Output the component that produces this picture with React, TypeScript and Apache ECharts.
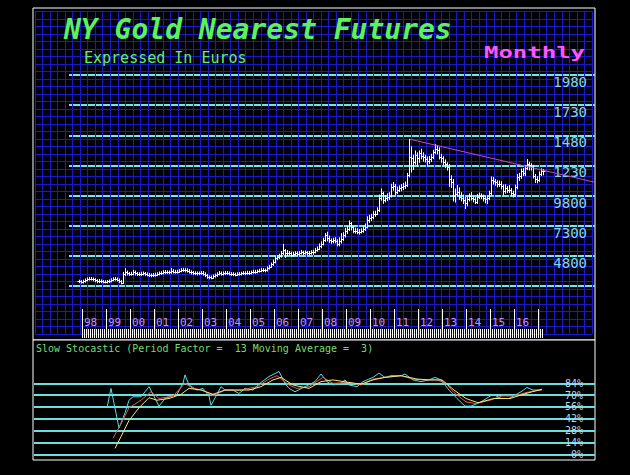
import React, { useEffect, useRef } from "react";
import * as echarts from "echarts";

// months are counted from Jan 1998 (= 0); the series starts Nov 1997
const START_MONTH = -2;

// monthly closes (EUR), Nov 1997 .. Mar 2017
const closes = [
  268, 262,
  270, 280, 288, 292, 290, 284, 276, 268, 272, 268, 265, 266,
  268, 272, 280, 288, 290, 282, 268, 258, 332, 345, 335, 330,
  332, 345, 335, 330, 328, 332, 335, 330, 325, 320, 318, 322,
  325, 330, 335, 338, 342, 346, 345, 344, 355, 350, 348, 350,
  355, 362, 365, 360, 358, 350, 342, 338, 336, 334, 335, 338,
  330, 318, 305, 302, 300, 310, 318, 330, 338, 332, 335, 340,
  338, 332, 330, 328, 325, 330, 332, 334, 338, 336, 340, 338,
  345, 350, 348, 352, 358, 365, 362, 360, 378, 390, 410, 430,
  460, 470, 480, 500, 530, 500, 505, 500, 490, 495, 500, 498,
  505, 510, 505, 508, 500, 505, 510, 515, 530, 540, 560, 580,
  610, 650, 628, 612, 600, 610, 605, 580, 600, 620, 650, 690,
  700, 750, 720, 690, 690, 680, 680, 690, 700, 720, 780, 790,
  800, 830, 830, 860, 960, 1000, 940, 960, 970, 980, 1050, 1060,
  1010, 1030, 1040, 1050, 1060, 1070, 1150, 1300, 1290, 1260, 1320, 1290,
  1330, 1310, 1300, 1280, 1270, 1280, 1300, 1340, 1370, 1360, 1300, 1290,
  1260, 1240, 1220, 1120, 1090, 980, 990, 1010, 970, 960, 940, 920,
  950, 975, 960, 950, 930, 970, 980, 975, 960, 950, 960, 1000,
  1110, 1100, 1090, 1080, 1080, 1060, 1020, 1040, 1030, 1030, 1000, 990,
  1050, 1130, 1140, 1180, 1170, 1210, 1240, 1230, 1220, 1140, 1120, 1110,
  1160, 1180, 1180,
];

const highs = [
  274, 270,
  274, 284, 292, 298, 296, 292, 286, 278, 280, 276, 272, 270,
  272, 276, 286, 294, 296, 292, 284, 270, 338, 370, 350, 338,
  340, 356, 350, 338, 336, 340, 342, 338, 334, 330, 326, 330,
  332, 336, 342, 344, 352, 354, 352, 350, 372, 362, 356, 356,
  362, 370, 372, 370, 368, 362, 352, 346, 344, 342, 342, 346,
  346, 336, 322, 310, 308, 316, 324, 336, 346, 342, 342, 346,
  346, 342, 338, 336, 332, 336, 338, 340, 344, 344, 348, 346,
  350, 356, 356, 358, 364, 372, 370, 366, 384, 398, 416, 440,
  466, 478, 490, 512, 570, 528, 520, 512, 506, 506, 510, 508,
  512, 520, 514, 516, 512, 512, 518, 522, 538, 550, 575, 592,
  622, 662, 672, 640, 616, 622, 626, 610, 626, 660, 668, 705,
  718, 765, 752, 722, 706, 700, 694, 700, 716, 740, 800, 812,
  820, 842, 846, 874, 980, 1030, 1004, 976, 990, 1000, 1070, 1084,
  1068, 1046, 1056, 1066, 1076, 1088, 1160, 1442, 1380, 1310, 1346, 1330,
  1346, 1360, 1330, 1310, 1296, 1300, 1318, 1352, 1400, 1386, 1372, 1318,
  1298, 1272, 1248, 1232, 1140, 1110, 1030, 1060, 1040, 1000, 980, 960,
  970, 990, 1000, 970, 960, 984, 996, 990, 980, 968, 972, 1012,
  1130, 1126, 1110, 1098, 1096, 1090, 1064, 1066, 1052, 1060, 1034, 1012,
  1062, 1150, 1160, 1196, 1200, 1226, 1275, 1252, 1240, 1226, 1150, 1132,
  1172, 1198, 1192,
];

const lows = [
  262, 258,
  258, 266, 276, 284, 284, 278, 270, 262, 262, 262, 260, 260,
  260, 264, 268, 278, 282, 276, 262, 252, 256, 320, 326, 322,
  324, 328, 326, 322, 320, 322, 326, 322, 318, 312, 310, 312,
  316, 320, 326, 330, 334, 338, 338, 336, 340, 342, 340, 342,
  346, 352, 356, 352, 350, 342, 334, 330, 328, 326, 328, 330,
  324, 312, 298, 294, 294, 298, 308, 314, 326, 324, 326, 330,
  330, 326, 322, 320, 318, 322, 324, 326, 330, 328, 332, 330,
  334, 340, 340, 344, 350, 354, 354, 352, 358, 374, 388, 406,
  426, 452, 462, 474, 494, 472, 488, 490, 478, 480, 488, 486,
  490, 498, 494, 498, 492, 494, 498, 496, 508, 524, 536, 552,
  574, 604, 608, 596, 588, 592, 592, 566, 568, 590, 612, 640,
  670, 694, 700, 676, 672, 668, 664, 674, 680, 696, 716, 762,
  778, 792, 812, 826, 852, 946, 920, 932, 944, 952, 972, 1028,
  990, 1000, 1018, 1024, 1034, 1044, 1060, 1140, 1180, 1200, 1244, 1226,
  1260, 1288, 1270, 1262, 1234, 1250, 1266, 1290, 1334, 1330, 1288, 1260,
  1240, 1216, 1196, 1060, 1050, 940, 930, 980, 954, 940, 918, 877,
  900, 940, 948, 932, 918, 920, 960, 960, 940, 924, 918, 950,
  990, 1080, 1070, 1056, 1060, 1040, 990, 1004, 1010, 1010, 984, 972,
  980, 1040, 1110, 1126, 1150, 1150, 1200, 1196, 1196, 1130, 1092, 1090,
  1102, 1150, 1156,
];

const yearLabels = ["98", "99", "00", "01", "02", "03", "04", "05", "06", "07",
  "08", "09", "10", "11", "12", "13", "14", "15", "16"];

const priceTickValues = [230, 480, 730, 980, 1230, 1480, 1730, 1980];
const priceTickLabels = ["", "4800", "7300", "9800", "1230", "1480", "1730", "1980"];

const pctTickValues = [0, 14, 28, 42, 56, 70, 84];
const pctTickLabels = ["0%", "14%", "28%", "42%", "56%", "70%", "84%"];

// resistance line [month, EUR]
const trendLine = [[163.5, 1447], [256, 1090]];

// slow stochastic [month, %]
const fastK = [[12, 55], [14, 78], [18, 31], [21, 49], [23, 64], [25, 68], [29, 68], [31, 74], [33, 80], [35, 71],
  [38, 57], [41, 66], [47, 71], [50, 84], [51, 94], [53, 82], [57, 76], [60, 78], [63, 69], [64, 58], [67, 71],
  [69, 80], [71, 76], [75, 76], [78, 72], [81, 78], [85, 76], [89, 85], [93, 92], [98, 98], [101, 84], [103, 78],
  [106, 74], [111, 80], [116, 86], [119, 95], [122, 86], [125, 82], [129, 84], [131, 88], [133, 82], [137, 80],
  [140, 86], [145, 91], [148, 96], [151, 91], [154, 93], [159, 93], [161, 95], [165, 88], [169, 86], [173, 88],
  [176, 91], [179, 88], [183, 76], [187, 66], [191, 57], [194, 57], [199, 62], [205, 71], [209, 66], [213, 66],
  [219, 74], [222, 79], [225, 76], [229, 76]];
const slowK = [[15, 19], [19, 36], [23, 55], [29, 64], [34, 74], [38, 66], [45, 69], [51, 84], [55, 78], [60, 76],
  [65, 69], [71, 76], [79, 76], [87, 80], [93, 89], [97, 93], [103, 82], [107, 78], [113, 80], [120, 91], [125, 84],
  [133, 85], [139, 82], [145, 89], [151, 91], [159, 93], [165, 89], [171, 88], [177, 88], [181.5, 84], [185.5, 73],
  [191.5, 62], [196.5, 60], [203.5, 64], [209.5, 69], [215.5, 69], [221.5, 73], [225.5, 75], [229.5, 76]];
const slowD = [[16, 7], [19, 21], [23, 40], [28, 55], [33, 67], [37, 64], [43, 66], [49, 71], [53, 78], [59, 76],
  [65, 71], [71, 76], [83, 76], [89, 80], [95, 88], [99, 91], [105, 82], [113, 78], [119, 86], [125, 88], [133, 85],
  [139, 83], [145, 88], [151, 91], [159, 93], [167, 89], [173, 88], [179.5, 88], [185.5, 76], [191.5, 66],
  [197.5, 61], [205.5, 66], [213.5, 66], [221.5, 72], [229.5, 77]];

const MONO = "'DejaVu Sans Mono', monospace";

export default function App() {
  const ref = useRef<HTMLDivElement>(null);

  useEffect(() => {
    if (!ref.current) return;
    const chart = echarts.init(ref.current, undefined, { renderer: "svg" });

    const ohlc = closes.map((c, i) => [START_MONTH + i, i === 0 ? c : closes[i - 1], c, lows[i], highs[i]]);

    const hidden = (gridIndex: number) => ({ type: "value", gridIndex, min: 0, max: 1, show: false });

    const option: any = {
      animation: false,
      backgroundColor: "#000",
      grid: [
        { left: 33, top: 8, width: 562, height: 332, show: true, backgroundColor: "#00000c", borderColor: "#ffffff", borderWidth: 1 },
        { left: 33, top: 340, width: 562, height: 120, show: true, backgroundColor: "#000000", borderColor: "#ffffff", borderWidth: 1 },
        { left: 35, top: 11.5, width: 556.85, height: 322.5 },
        { left: 69, top: 75, width: 526, height: 211 },
        { left: 82, top: 329, width: 460, height: 9 },
        { left: 82, top: 309, width: 456, height: 29 },
        { left: 34, top: 383.3, width: 561, height: 71 },
      ],
      xAxis: [
        hidden(0),
        hidden(1),
        {
          type: "value", gridIndex: 2, min: 0, max: 74, interval: 1,
          axisLine: { show: false }, axisTick: { show: false }, axisLabel: { show: false },
          splitLine: { show: true, lineStyle: { color: "#1a1ac4", width: 1 } },
        },
        { type: "value", gridIndex: 3, min: -7, max: 256, show: false },
        {
          type: "value", gridIndex: 4, min: 0, max: 230, interval: 1,
          axisLine: { show: false }, axisLabel: { show: false }, splitLine: { show: false },
          axisTick: { show: true, inside: true, length: 9, lineStyle: { color: "#ffffff", width: 1 } },
        },
        {
          type: "category", gridIndex: 5, data: yearLabels, boundaryGap: true,
          axisLine: { show: false }, splitLine: { show: false },
          axisTick: { show: true, inside: true, length: 29, lineStyle: { color: "#ffffff", width: 1 } },
          axisLabel: {
            show: true, inside: true, margin: 10, interval: 0, color: "#c58cff",
            fontFamily: MONO, fontSize: 11, padding: [0, 7, 0, 0],
          },
        },
        { type: "value", gridIndex: 6, min: -24.5, max: 256, show: false },
      ],
      yAxis: [
        hidden(0),
        hidden(1),
        {
          type: "value", gridIndex: 2, min: 0, max: 43, interval: 1,
          axisLine: { show: false }, axisTick: { show: false }, axisLabel: { show: false },
          splitLine: { show: true, lineStyle: { color: "#1a1ac4", width: 1 } },
        },
        {
          type: "value", gridIndex: 3, min: 230, max: 1980, interval: 250, position: "right",
          axisLine: { show: false }, axisTick: { show: false },
          splitLine: { show: true, lineStyle: { color: "#72e6e6", width: 2 } },
          axisLabel: {
            show: true, inside: true, margin: 8, color: "#84d4f2", fontFamily: MONO, fontSize: 14,
            verticalAlign: "top", showMinLabel: true, showMaxLabel: true,
            formatter: (v: number) => {
              const i = priceTickValues.indexOf(Math.round(v));
              return i >= 0 ? priceTickLabels[i] : "";
            },
          },
        },
        hidden(4),
        hidden(5),
        {
          type: "value", gridIndex: 6, min: 0, max: 84, interval: 14, position: "right",
          axisLine: { show: false }, axisTick: { show: false },
          splitLine: { show: true, lineStyle: { color: "#6cdede", width: 2 } },
          axisLabel: {
            show: true, inside: true, margin: 12, color: "#b4dcf4", fontFamily: MONO, fontSize: 10,
            verticalAlign: "middle", padding: [8, 0, 0, 0], showMinLabel: true, showMaxLabel: true,
            formatter: (v: number) => {
              const i = pctTickValues.indexOf(Math.round(v));
              return i >= 0 ? pctTickLabels[i] : "";
            },
          },
        },
      ],
      graphic: [
        {
          type: "text", left: 64, top: 15, z: 50,
          style: { text: "NY Gold Nearest Futures", fill: "#5cf25c", font: "italic bold 28px " + MONO },
        },
        {
          type: "text", left: 84, top: 50, z: 50,
          style: { text: "Expressed In Euros", fill: "#66ee66", font: "15px " + MONO },
        },
        {
          type: "text", x: 484, y: 45, scaleX: 1.5, z: 50,
          style: { text: "Monthly", fill: "#ff55ff", font: "bold 16px " + MONO },
        },
        {
          type: "text", left: 36, top: 343, z: 50,
          style: { text: "Slow Stocastic (Period Factor =  13 Moving Average =  3)", fill: "#74dc74", font: "10px " + MONO },
        },
      ],
      series: [
        {
          type: "custom", xAxisIndex: 3, yAxisIndex: 3, data: ohlc, z: 5,
          encode: { x: 0, y: [1, 2, 3, 4] },
          renderItem: (_p: any, api: any) => {
            const m = api.value(0);
            const pH = api.coord([m, api.value(4)]);
            const pL = api.coord([m, api.value(3)]);
            const pO = api.coord([m, api.value(1)]);
            const pC = api.coord([m, api.value(2)]);
            const x = Math.round(pH[0]) + 0.5;
            const yo = Math.round(pO[1]) + 0.5;
            const yc = Math.round(pC[1]) + 0.5;
            const st = { stroke: "#ffffff", lineWidth: 1 };
            return {
              type: "group",
              children: [
                { type: "line", shape: { x1: x, y1: pH[1] - 1, x2: x, y2: pL[1] + 1 }, style: st },
                { type: "line", shape: { x1: x - 2, y1: yo, x2: x, y2: yo }, style: st },
                { type: "line", shape: { x1: x, y1: yc, x2: x + 2, y2: yc }, style: st },
              ],
            };
          },
        },
        {
          type: "line", xAxisIndex: 3, yAxisIndex: 3, data: trendLine, showSymbol: false, z: 6,
          lineStyle: { color: "#c848c8", width: 1 },
        },
        {
          type: "line", xAxisIndex: 6, yAxisIndex: 6, data: fastK, showSymbol: false, clip: false,
          lineStyle: { color: "#4fe0e6", width: 1 },
        },
        {
          type: "line", xAxisIndex: 6, yAxisIndex: 6, data: slowK, showSymbol: false, clip: false,
          lineStyle: { color: "#e85a4a", width: 1 },
        },
        {
          type: "line", xAxisIndex: 6, yAxisIndex: 6, data: slowD, showSymbol: false, clip: false,
          lineStyle: { color: "#f2e878", width: 1 },
        },
      ],
    };

    chart.setOption(option);
    return () => chart.dispose();
  }, []);

  return (
    <div
      ref={ref}
      style={{ position: "fixed", left: 0, top: 0, width: 630, height: 475, background: "#000" }}
    />
  );
}
